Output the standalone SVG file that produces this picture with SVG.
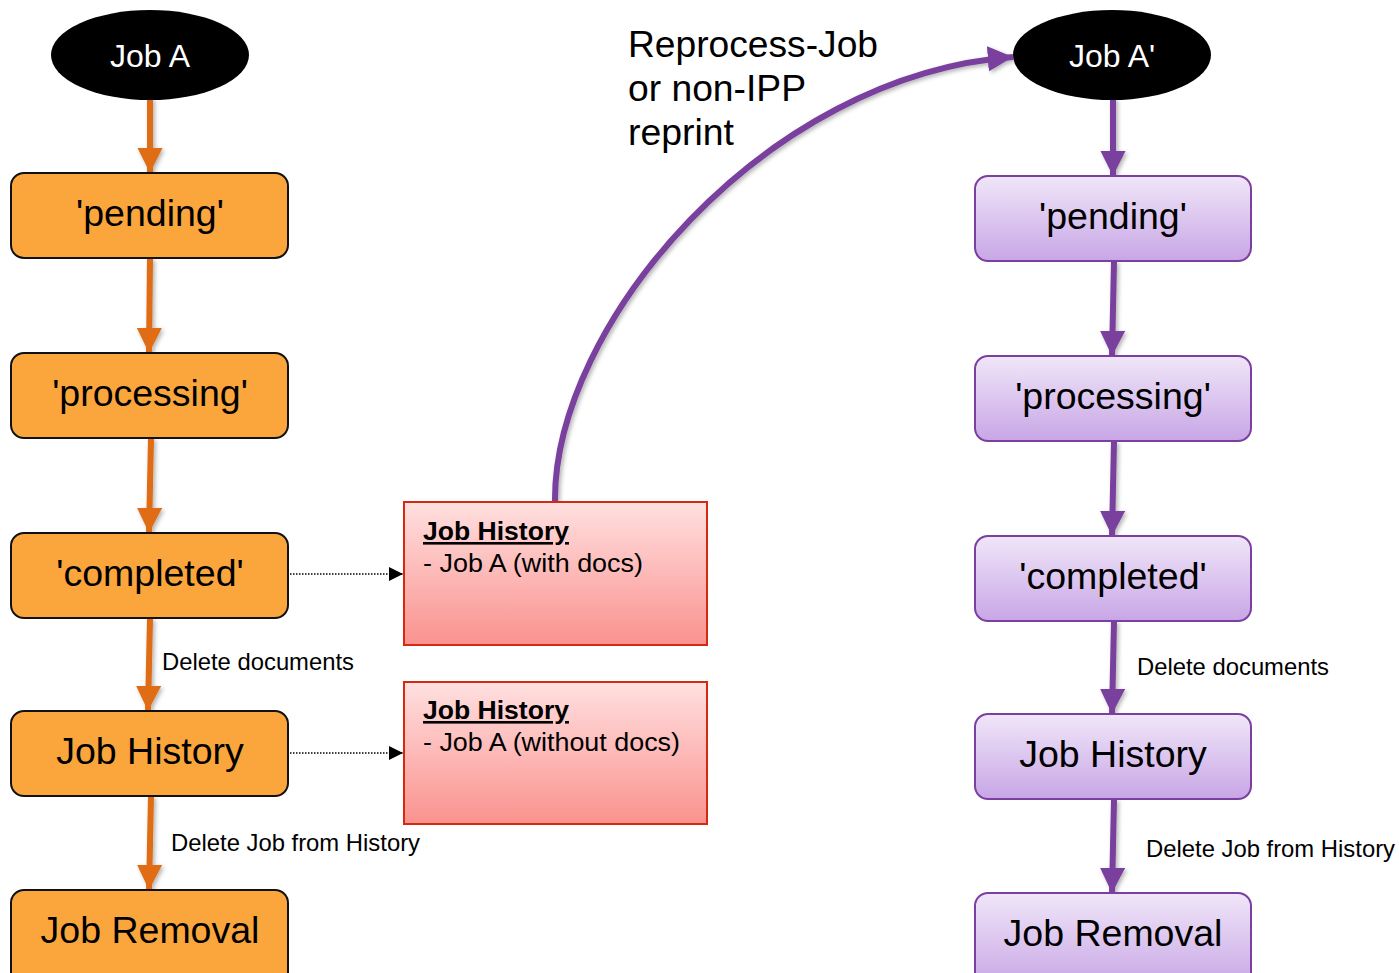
<svg xmlns="http://www.w3.org/2000/svg" width="1399" height="973" viewBox="0 0 1399 973">
<defs>
<linearGradient id="gP" x1="0" y1="0" x2="0" y2="1"><stop offset="0" stop-color="#F0E6F8"/><stop offset="1" stop-color="#C8A6E6"/></linearGradient>
<linearGradient id="gR" x1="0" y1="0" x2="0" y2="1"><stop offset="0" stop-color="#FFE0E0"/><stop offset="1" stop-color="#FA928E"/></linearGradient>
<filter id="sh" filterUnits="userSpaceOnUse" x="0" y="0" width="1399" height="973"><feDropShadow dx="2" dy="2" stdDeviation="2" flood-color="#000" flood-opacity="0.3"/></filter>
<marker id="mO" viewBox="0 0 10 10" refX="10" refY="5" markerWidth="4.2" markerHeight="4.2" orient="auto" markerUnits="strokeWidth"><path d="M0,0 L10,5 L0,10 z" fill="#E06C12"/></marker>
<marker id="mP" viewBox="0 0 10 10" refX="10" refY="5" markerWidth="4.2" markerHeight="4.2" orient="auto" markerUnits="strokeWidth"><path d="M0,0 L10,5 L0,10 z" fill="#7A3F9E"/></marker>
<marker id="mK" viewBox="0 0 10 10" refX="10" refY="5" markerWidth="14" markerHeight="14" orient="auto" markerUnits="userSpaceOnUse"><path d="M0,0 L10,5 L0,10 z" fill="#000"/></marker>
</defs>
<style>
text{font-family:"Liberation Sans",Arial,sans-serif;fill:#000}
.o{fill:#FBA63D;stroke:#111;stroke-width:2}
.p{fill:url(#gP);stroke:#7B3FA0;stroke-width:2}
.r{fill:url(#gR);stroke:#D42A10;stroke-width:2}
.big{font-size:37.5px;text-anchor:middle}
.ell{font-size:32px;fill:#fff;text-anchor:middle}
.lbl{font-size:24px}
.hd{font-size:26px;font-weight:bold;text-decoration:underline}
.bd{font-size:26.5px}
.rp{font-size:37px}
.ao{stroke:#E06C12;stroke-width:6;fill:none;marker-end:url(#mO);filter:url(#sh)}
.ap{stroke:#7A3F9E;stroke-width:6;fill:none;marker-end:url(#mP);filter:url(#sh)}
.dt{stroke:#000;stroke-width:1.5;stroke-dasharray:1.5 1.5;fill:none;marker-end:url(#mK)}
</style>
<g id="connectors">
<path class="ao" d="M150,98 L150,173"/>
<path class="ao" d="M150,258 L149,353"/>
<path class="ao" d="M151,438 L149,533"/>
<path class="ao" d="M150,618 L148,711"/>
<path class="ao" d="M151,796 L149,890"/>
<path class="ap" d="M1113,98 L1113,176"/>
<path class="ap" d="M1114,261 L1112,356"/>
<path class="ap" d="M1114,441 L1112,536"/>
<path class="ap" d="M1114,621 L1112,714"/>
<path class="ap" d="M1114,799 L1112,893"/>
<path class="dt" d="M290,574 L403,574"/>
<path class="dt" d="M290,753 L403,753"/>
<path class="ap" d="M555,502 C553,325 765,75 1013,57"/>
<text class="rp" x="628" y="57" textLength="250" lengthAdjust="spacingAndGlyphs">Reprocess-Job</text>
<text class="rp" x="628" y="101" textLength="178" lengthAdjust="spacingAndGlyphs">or non-IPP</text>
<text class="rp" x="628" y="145" textLength="106" lengthAdjust="spacingAndGlyphs">reprint</text>
<text class="lbl" x="162" y="670" textLength="192" lengthAdjust="spacingAndGlyphs">Delete documents</text>
<text class="lbl" x="171" y="851" textLength="249" lengthAdjust="spacingAndGlyphs">Delete Job from History</text>
<text class="lbl" x="1137" y="675" textLength="192" lengthAdjust="spacingAndGlyphs">Delete documents</text>
<text class="lbl" x="1146" y="857" textLength="249" lengthAdjust="spacingAndGlyphs">Delete Job from History</text>
</g>
<g id="jobA"><ellipse cx="150" cy="55" rx="99" ry="45" fill="#000"/><text class="ell" x="150" y="67">Job A</text></g>
<g id="pendingA"><rect class="o" x="11" y="173" width="277" height="85" rx="13"/><text class="big" x="150" y="226">'pending'</text></g>
<g id="processingA"><rect class="o" x="11" y="353" width="277" height="85" rx="13"/><text class="big" x="150" y="406">'processing'</text></g>
<g id="completedA"><rect class="o" x="11" y="533" width="277" height="85" rx="13"/><text class="big" x="150" y="586">'completed'</text></g>
<g id="historyA"><rect class="o" x="11" y="711" width="277" height="85" rx="13"/><text class="big" x="150" y="764">Job History</text></g>
<g id="removalA"><rect class="o" x="11" y="890" width="277" height="95" rx="13"/><text class="big" x="150" y="943">Job Removal</text></g>
<g id="hist1"><rect class="r" x="404" y="502" width="303" height="143"/><text class="hd" x="423" y="540" textLength="146" lengthAdjust="spacingAndGlyphs">Job History</text><text class="bd" x="423" y="572" textLength="220" lengthAdjust="spacingAndGlyphs">- Job A (with docs)</text></g>
<g id="hist2"><rect class="r" x="404" y="682" width="303" height="142"/><text class="hd" x="423" y="719" textLength="146" lengthAdjust="spacingAndGlyphs">Job History</text><text class="bd" x="423" y="751" textLength="257" lengthAdjust="spacingAndGlyphs">- Job A (without docs)</text></g>
<g id="jobA2"><ellipse cx="1112" cy="55" rx="99" ry="45" fill="#000"/><text class="ell" x="1112" y="67">Job A'</text></g>
<g id="pendingB"><rect class="p" x="975" y="176" width="276" height="85" rx="13"/><text class="big" x="1113" y="229">'pending'</text></g>
<g id="processingB"><rect class="p" x="975" y="356" width="276" height="85" rx="13"/><text class="big" x="1113" y="409">'processing'</text></g>
<g id="completedB"><rect class="p" x="975" y="536" width="276" height="85" rx="13"/><text class="big" x="1113" y="589">'completed'</text></g>
<g id="historyB"><rect class="p" x="975" y="714" width="276" height="85" rx="13"/><text class="big" x="1113" y="767">Job History</text></g>
<g id="removalB"><rect class="p" x="975" y="893" width="276" height="95" rx="13"/><text class="big" x="1113" y="946">Job Removal</text></g>
</svg>
